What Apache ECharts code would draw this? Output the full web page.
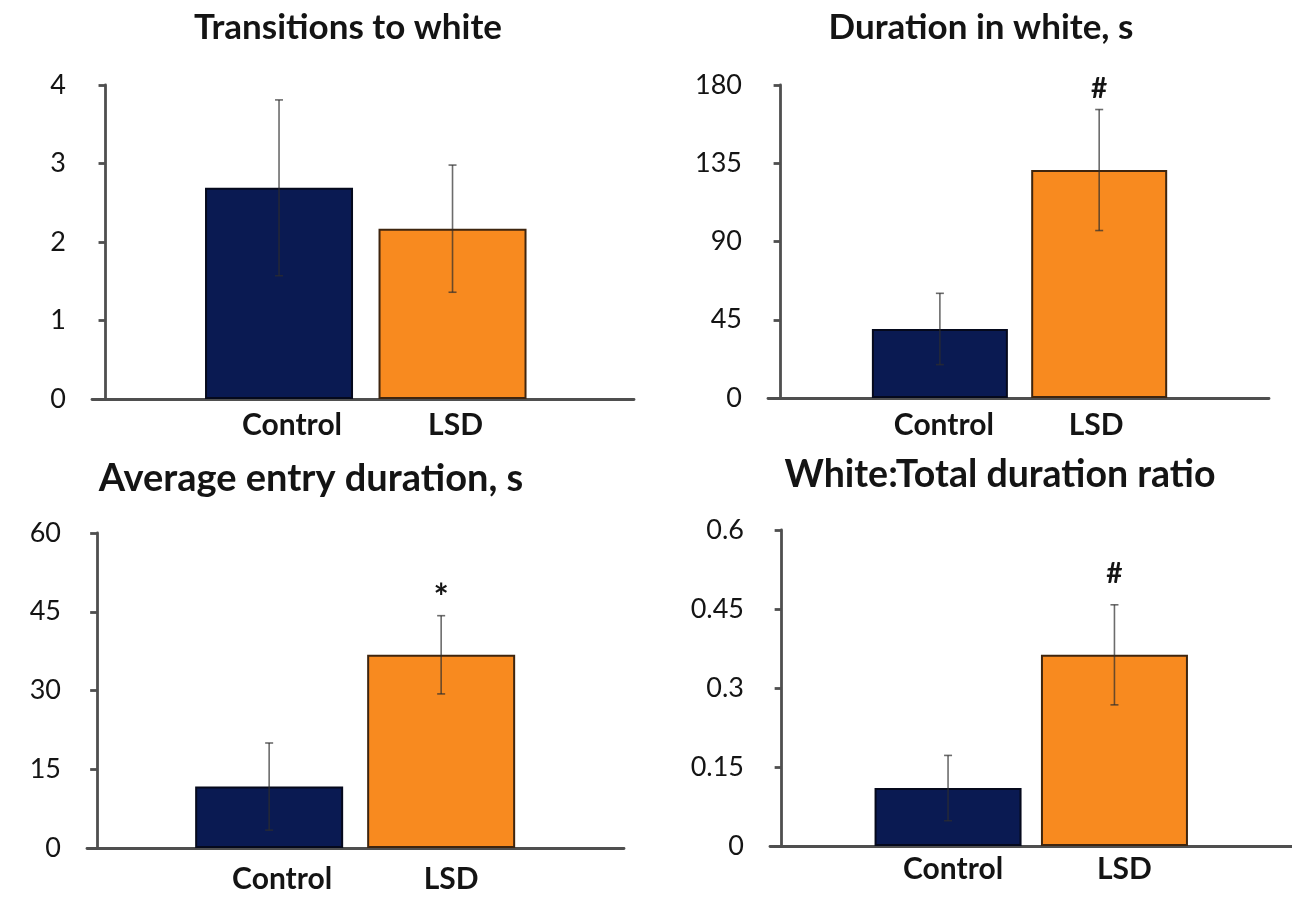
<!DOCTYPE html>
<html>
<head>
<meta charset="utf-8">
<title>LSD behaviour panels</title>
<script src="https://cdn.jsdelivr.net/npm/echarts@6/dist/echarts.min.js"></script>
<style>
  html, body { margin: 0; padding: 0; background: #ffffff; }
  #chart { width: 1292px; height: 897px; }
</style>
</head>
<body>
<div id="chart"></div>
<script>
// ---- data ----
const categories = ['Control', 'LSD'];
const panelTitles = [
  'Transitions to white',
  'Duration in white, s',
  'Average entry duration, s',
  'White:Total duration ratio'
];

const transitionsMean = [2.69, 2.17];
const transitionsErr  = [1.12, 0.81];

const durationMean = [39.7, 131.1];
const durationErr  = [20.5, 34.8];

const entryMean = [11.7, 36.8];
const entryErr  = [8.3, 7.45];

const ratioMean = [0.110, 0.363];
const ratioErr  = [0.062, 0.095];

const significance = [
  ['', ''],
  ['', '#'],
  ['', '*'],
  ['', '#']
];

const yMaxima = [4, 180, 60, 0.6];
const yIntervals = [1, 45, 15, 0.15];

const panelMeans = [transitionsMean, durationMean, entryMean, ratioMean];
const panelErrs = [transitionsErr, durationErr, entryErr, ratioErr];

// ---- styling / layout ----
const FONT = 'Lato, "Open Sans", sans-serif';
const TEXT = '#141414';
const AXIS = '#4f4f4f';
const barFill = ['#0a1a52', '#f88a1f'];
const barEdge = ['#05091c', '#3e250f'];

// labelShift: horizontal nudge (px) of each category label relative to its bar
const layout = [
  { left: 92,  top: 85,  width: 542, height: 314, xMin: -0.078, xMax: 3.046, barWidth: 148,
    titleX: 343, titleTop: 5,   titleSize: 35, markGap: 0,  markSize: 28, labelMargin: 11, labelShift: [13, 3] },
  { left: 768, top: 85,  width: 501, height: 313, xMin: -0.079, xMax: 3.066, barWidth: 136,
    titleX: 976, titleTop: 5,   titleSize: 35, markGap: 21, markSize: 28, labelMargin: 12, labelShift: [4, -3] },
  { left: 87,  top: 533, width: 537, height: 315, xMin: -0.059, xMax: 3.063, barWidth: 148,
    titleX: 306, titleTop: 455, titleSize: 38, markGap: 17, markSize: 36, labelMargin: 16, labelShift: [13, 10] },
  { left: 770, top: 530, width: 538, height: 316, xMin: -0.070, xMax: 3.067, barWidth: 147,
    titleX: 995, titleTop: 451, titleSize: 37.5, markGap: 31, markSize: 28, labelMargin: 8, labelShift: [5, 10] }
];

function shiftStyle(dx) {
  return { padding: dx >= 0 ? [0, 0, 0, 2 * dx] : [0, -2 * dx, 0, 0] };
}

const grids = [], xAxes = [], yAxes = [], titles = [], series = [];

layout.forEach((L, p) => {
  grids.push({ left: L.left, top: L.top, width: L.width, height: L.height });

  titles.push({
    text: panelTitles[p],
    left: L.titleX,
    top: L.titleTop,
    textAlign: 'center',
    textStyle: { fontFamily: FONT, fontWeight: 'bold', fontSize: L.titleSize, color: TEXT }
  });

  xAxes.push({
    gridIndex: p,
    type: 'value',
    min: L.xMin,
    max: L.xMax,
    axisLine: { show: true, onZero: false, lineStyle: { color: AXIS, width: 2.8 } },
    axisTick: { show: false },
    splitLine: { show: false },
    axisLabel: {
      customValues: [1, 2],
      formatter: v => {
        const k = Math.round(v) - 1;
        return categories[k] ? '{c' + k + '|' + categories[k] + '}' : '';
      },
      rich: { c0: shiftStyle(L.labelShift[0]), c1: shiftStyle(L.labelShift[1]) },
      fontFamily: FONT, fontWeight: 'bold', fontSize: 30, color: TEXT,
      margin: L.labelMargin
    }
  });

  yAxes.push({
    gridIndex: p,
    type: 'value',
    min: 0,
    max: yMaxima[p],
    interval: yIntervals[p],
    axisLine: { show: true, lineStyle: { color: AXIS, width: 2.8 } },
    axisTick: { show: true, length: 7, lineStyle: { color: AXIS, width: 2.8 } },
    splitLine: { show: false },
    axisLabel: { fontFamily: FONT, fontSize: 27, color: TEXT, margin: 26 }
  });

  const means = panelMeans[p];
  const errs = panelErrs[p];

  series.push({
    type: 'bar',
    xAxisIndex: p,
    yAxisIndex: p,
    barWidth: L.barWidth,
    silent: true,
    data: means.map((m, k) => ({
      value: [k + 1, m],
      itemStyle: { color: barFill[k], borderColor: barEdge[k], borderWidth: 2 }
    }))
  });

  // error bars (mean ± SEM) with significance markers above
  series.push({
    type: 'custom',
    xAxisIndex: p,
    yAxisIndex: p,
    silent: true,
    z: 5,
    data: means.map((m, k) => [k + 1, m, errs[k], k]),
    renderItem: (params, api) => {
      const x = api.value(0), m = api.value(1), e = api.value(2), k = api.value(3);
      const top = api.coord([x, m + e]);
      const bot = api.coord([x, m - e]);
      const cap = 4;
      const style = { stroke: 'rgba(45,45,45,0.7)', lineWidth: 1.6 };
      const children = [
        { type: 'line', shape: { x1: top[0], y1: top[1], x2: bot[0], y2: bot[1] }, style },
        { type: 'line', shape: { x1: top[0] - cap, y1: top[1], x2: top[0] + cap, y2: top[1] }, style },
        { type: 'line', shape: { x1: bot[0] - cap, y1: bot[1], x2: bot[0] + cap, y2: bot[1] }, style }
      ];
      const mark = significance[p][k];
      if (mark) {
        children.push({
          type: 'text',
          style: {
            text: mark, x: top[0], y: top[1] - L.markGap,
            align: 'center', verticalAlign: 'middle',
            font: 'bold ' + L.markSize + 'px ' + FONT, fill: TEXT
          }
        });
      }
      return { type: 'group', children };
    }
  });
});

const chart = echarts.init(document.getElementById('chart'), null, { renderer: 'canvas' });
chart.setOption({
  backgroundColor: '#ffffff',
  animation: false,
  title: titles,
  grid: grids,
  xAxis: xAxes,
  yAxis: yAxes,
  series
});
</script>
</body>
</html>
